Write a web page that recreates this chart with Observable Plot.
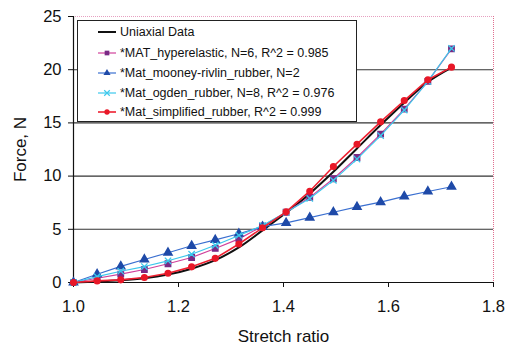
<!DOCTYPE html>
<html>
<head>
<meta charset="utf-8">
<script src="https://cdn.jsdelivr.net/npm/d3@7"></script>
<script src="https://cdn.jsdelivr.net/npm/@observablehq/plot@0.6"></script>
<style>
  html, body { margin: 0; padding: 0; background: #fff; }
  #wrap { position: relative; width: 512px; height: 344px; font-family: "Liberation Sans", Arial, sans-serif; }
  #legend { position: absolute; left: 77px; top: 20px; width: 278px; height: 100px; border: 1.5px solid #222; background: #fff; box-sizing: content-box; }
  .row { position: absolute; left: 0; height: 16px; display: flex; align-items: center; font-size: 12.5px; color: #111; white-space: nowrap; }
  .row svg { margin-left: 20px; margin-right: 4px; }
</style>
</head>
<body>
<div id="wrap"></div>
<script>
const stretch = [1.0, 1.045, 1.09, 1.135, 1.18, 1.225, 1.27, 1.315, 1.36, 1.405, 1.45, 1.495, 1.54, 1.585, 1.63, 1.675, 1.72];
const uniaxial     = [0, 0.08, 0.2, 0.4, 0.75, 1.3, 2.1, 3.3, 4.9, 6.55, 8.35, 10.4, 12.6, 14.8, 16.9, 18.85, 20.2];
const hyperelastic = [0, 0.4, 0.78, 1.22, 1.76, 2.35, 3.2, 4.1, 5.3, 6.6, 8.0, 9.75, 11.75, 13.95, 16.3, 18.9, 21.95];
const mooney       = [0, 0.78, 1.52, 2.16, 2.8, 3.45, 4.0, 4.58, 5.25, 5.6, 6.1, 6.6, 7.1, 7.55, 8.1, 8.55, 9.0];
const ogden        = [0, 0.55, 1.06, 1.5, 2.04, 2.66, 3.5, 4.42, 5.35, 6.6, 7.9, 9.6, 11.6, 13.8, 16.2, 18.9, 22.0];
const simplified   = [0, 0.15, 0.25, 0.47, 0.87, 1.47, 2.27, 3.62, 5.14, 6.64, 8.58, 10.9, 13.0, 15.1, 17.1, 19.05, 20.24];
const xTicks = [1.0, 1.2, 1.4, 1.6, 1.8];
const yTicks = [0, 5, 10, 15, 20, 25];
const gridY = [5, 10, 15, 20];

const seriesNames = [
  "Uniaxial Data",
  "*MAT_hyperelastic, N=6, R^2 = 0.985",
  "*Mat_mooney-rivlin_rubber, N=2",
  "*Mat_ogden_rubber, N=8, R^2 = 0.976",
  "*Mat_simplified_rubber, R^2 = 0.999"
];

const tbl = (ys) => stretch.map((x, i) => ({x, y: ys[i]}));
const dUni = tbl(uniaxial), dHyp = tbl(hyperelastic), dMoo = tbl(mooney), dOgd = tbl(ogden), dSim = tbl(simplified);

const styles = [
  {line: "#111", width: 2, sym: null, fill: null},
  {line: "#d0409a", width: 1.2, sym: "square", fill: "#7a2a85"},
  {line: "#3a6fd0", width: 1.2, sym: "triangle", fill: "#1f4aa8"},
  {line: "#3cc8ec", width: 1.2, sym: "times", fill: "#3cc8ec"},
  {line: "#ee2030", width: 1.6, sym: "circle", fill: "#e81828"}
];

const chart = Plot.plot({
  width: 512, height: 344,
  marginLeft: 73, marginRight: 19, marginTop: 16, marginBottom: 62,
  style: {fontFamily: "Liberation Sans, Arial, sans-serif", fontSize: "16.5px", color: "#111", background: "#fff"},
  x: {domain: [1.0, 1.8]},
  y: {domain: [0, 25]},
  marks: [
    Plot.ruleY(gridY, {stroke: "#333", strokeWidth: 1.1}),
    Plot.ruleY([25], {stroke: "#e6a0c0", strokeWidth: 1, strokeDasharray: "1,1"}),
    Plot.ruleX([1.8], {stroke: "#e07090", strokeWidth: 1, strokeDasharray: "1,1"}),
    Plot.axisX({ticks: xTicks, tickFormat: d3.format(".1f"), tickSize: 5, tickPadding: 13, fontSize: 16.5, label: null}),
    Plot.axisX({ticks: [], label: "Stretch ratio", labelAnchor: "center", labelArrow: "none", labelOffset: 59, fontSize: 17}),
    Plot.axisY({ticks: yTicks, tickSize: 5, tickPadding: 7, fontSize: 16.5, label: null}),
    Plot.axisY({ticks: [], label: "Force, N", labelAnchor: "center", labelArrow: "none", labelOffset: 60, fontSize: 17}),
    Plot.ruleX([1.0], {stroke: "#111", strokeWidth: 1.2}),
    Plot.ruleY([0], {stroke: "#111", strokeWidth: 1.2}),
    Plot.line(dUni, {x: "x", y: "y", stroke: styles[0].line, strokeWidth: 2, curve: "catmull-rom"}),
    Plot.line(dHyp, {x: "x", y: "y", stroke: styles[1].line, strokeWidth: 1.2}),
    Plot.dot(dHyp, {x: "x", y: "y", symbol: "square", r: 3, fill: styles[1].fill, stroke: styles[1].fill}),
    Plot.line(dMoo, {x: "x", y: "y", stroke: styles[2].line, strokeWidth: 1.2}),
    Plot.dot(dMoo, {x: "x", y: "y", symbol: "triangle", r: 3, fill: styles[2].fill, stroke: styles[2].fill}),
    Plot.line(dOgd, {x: "x", y: "y", stroke: styles[3].line, strokeWidth: 1.2}),
    Plot.dot(dOgd, {x: "x", y: "y", symbol: "times", r: 3, stroke: styles[3].fill, strokeWidth: 1.3}),
    Plot.line(dSim, {x: "x", y: "y", stroke: styles[4].line, strokeWidth: 1.6}),
    Plot.dot(dSim, {x: "x", y: "y", symbol: "circle", r: 2.8, fill: styles[4].fill, stroke: styles[4].fill})
  ]
});

const wrap = document.getElementById("wrap");
wrap.appendChild(chart);

const legend = document.createElement("div");
legend.id = "legend";
const rowTops = [3, 23.5, 43.5, 63.5, 82.5];
seriesNames.forEach((name, i) => {
  const s = styles[i];
  const row = document.createElement("div");
  row.className = "row";
  row.style.top = rowTops[i] + "px";
  const svgNS = "http://www.w3.org/2000/svg";
  const sv = document.createElementNS(svgNS, "svg");
  sv.setAttribute("width", 18); sv.setAttribute("height", 12);
  const ln = document.createElementNS(svgNS, "line");
  ln.setAttribute("x1", 0); ln.setAttribute("x2", 18); ln.setAttribute("y1", 6); ln.setAttribute("y2", 6);
  ln.setAttribute("stroke", s.line); ln.setAttribute("stroke-width", s.width);
  sv.appendChild(ln);
  if (s.sym) {
    const path = document.createElementNS(svgNS, "path");
    const sym = {square: d3.symbolSquare, triangle: d3.symbolTriangle, times: d3.symbolTimes, circle: d3.symbolCircle}[s.sym];
    path.setAttribute("d", d3.symbol(sym, 22)());
    path.setAttribute("transform", "translate(9,6)");
    if (s.sym === "times") { path.setAttribute("fill", "none"); path.setAttribute("stroke", s.fill); path.setAttribute("stroke-width", 1.2); }
    else path.setAttribute("fill", s.fill);
    sv.appendChild(path);
  }
  row.appendChild(sv);
  const t = document.createElement("span");
  t.textContent = name;
  row.appendChild(t);
  legend.appendChild(row);
});
wrap.appendChild(legend);
</script>
</body>
</html>
